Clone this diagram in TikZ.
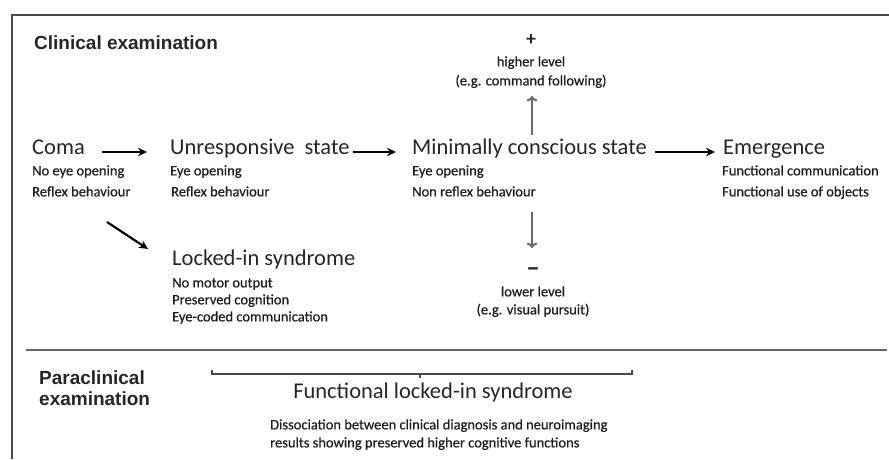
\documentclass[tikz,border=0pt]{standalone}
\usepackage{fontspec}
\setmainfont{Carlito}
\newfontfamily\arialfont{Liberation Sans}
\usetikzlibrary{arrows.meta}
\definecolor{txt}{HTML}{262626}
\definecolor{subt}{HTML}{1E1E1E}
\definecolor{vgray}{HTML}{6A6A6A}
\definecolor{framec}{HTML}{4A4A4A}
\begin{document}
\begin{tikzpicture}[x=1pt,y=-1pt,
  every node/.style={inner sep=0pt, text=txt},
  big/.style={font=\fontsize{22.5}{27}\selectfont, anchor=mid west},
  bigc/.style={font=\fontsize{22.5}{27}\selectfont, anchor=mid},
  small/.style={font=\fontsize{14.5}{17}\selectfont\addfontfeatures{FakeBold=0.6}, text=subt, anchor=mid west},
  smallc/.style={font=\fontsize{14.5}{17}\selectfont\addfontfeatures{FakeBold=0.6}, text=subt, anchor=mid},
  head/.style={font=\arialfont\bfseries\fontsize{19}{21}\selectfont, anchor=mid west},
  sign/.style={font=\bfseries\fontsize{20}{22}\selectfont, anchor=mid},
  harrow/.style={line width=2.2pt, draw=black, -{Stealth[length=9pt,width=8.5pt]}},
  varrow/.style={line width=2pt, draw=vgray, -{To[length=5.5pt,width=11pt]}},
  framel/.style={line width=2pt, draw=framec},
  sepl/.style={line width=2.2pt, draw=framec!85},
  brack/.style={line width=1.3pt, draw=framec}]
\useasboundingbox (0,0) rectangle (889,459);

% frame
\coordinate (ftl) at (12,15);
\coordinate (ftr) at (889,15);
\coordinate (fbl) at (12,459);
\draw[framel] (ftr) -- (ftl) -- (fbl);
\coordinate (sl) at (26,350);
\coordinate (sr) at (887,350);
\draw[sepl] (sl) -- (sr);

% headings
\node[head] (clin) at (34,47) {Clinical examination};
\node[head] (para1) at (39,382) {Paraclinical};
\node[head] (para2) at (39,403) {examination};

% main states
\node[big] (coma) at (32,152) {Coma};
\node[big] (unres) at (170,152) {Unresponsive\hspace{0.22em} state};
\node[big] (mcs) at (412,152) {Minimally conscious state};
\node[big] (emer) at (723,152) {Emergence};
\node[big] (lis) at (172,263) {Locked-in syndrome};

% sub texts
\node[small] (coma1) at (32,173) {No eye opening};
\node[small] (coma2) at (32,194) {Reflex behaviour};
\node[small] (unres1) at (170,173) {Eye opening};
\node[small] (unres2) at (171,194) {Reflex behaviour};
\node[small] (mcs1) at (412,173) {Eye opening};
\node[small] (mcs2) at (412,194) {Non reflex behaviour};
\node[small] (emer1) at (722,173) {Functional communication};
\node[small] (emer2) at (722,194) {Functional use of objects};
\node[small] (lis1) at (172,285) {No motor output};
\node[small] (lis2) at (172,302) {Preserved cognition};
\node[small] (lis3) at (172,319) {Eye-coded communication};

% levels
\node[sign] (plus) at (531,43) {+};
\node[smallc] (hi1) at (531,64) {higher level};
\node[smallc] (hi2) at (531,83) {(e.g. command following)};
\node[sign, font=\bfseries\fontsize{27}{29}\selectfont] (minus) at (533,274) {–};
\node[smallc] (lo1) at (533,294) {lower level};
\node[smallc] (lo2) at (533,312) {(e.g. visual pursuit)};

% horizontal arrows
\draw[harrow, shorten <=17pt, shorten >=23pt] (coma.mid east) -- (unres.mid west);
\draw[harrow, shorten <=3pt, shorten >=16pt] (unres.mid east) -- (mcs.mid west);
\draw[harrow, shorten <=8pt, shorten >=8pt] (mcs.mid east) -- (emer.mid west);

% diagonal arrow
\coordinate (d1) at (107,222);
\coordinate (d2) at (148,249);
\draw[harrow] (d1) -- (d2);

% vertical arrows
\coordinate (u1) at (532,135);
\coordinate (u2) at (532,96);
\draw[varrow] (u1) -- (u2);
\coordinate (v1) at (532,212);
\coordinate (v2) at (532,248);
\draw[varrow] (v1) -- (v2);

% bracket
\coordinate (b1) at (212,370);
\coordinate (b2) at (632,370);
\coordinate (bm) at (420,374);
\draw[brack] (b1) -- (212,374) -- (632,374) -- (b2);
\draw[brack] (bm) -- (420,378);

% functional LIS
\node[bigc] (flis) at (433,396) {Functional locked-in syndrome};
\node[small] (dis1) at (270,427) {Dissociation between clinical diagnosis and neuroimaging};
\node[small] (dis2) at (270,445) {results showing preserved higher cognitive functions};
\end{tikzpicture}
\end{document}
